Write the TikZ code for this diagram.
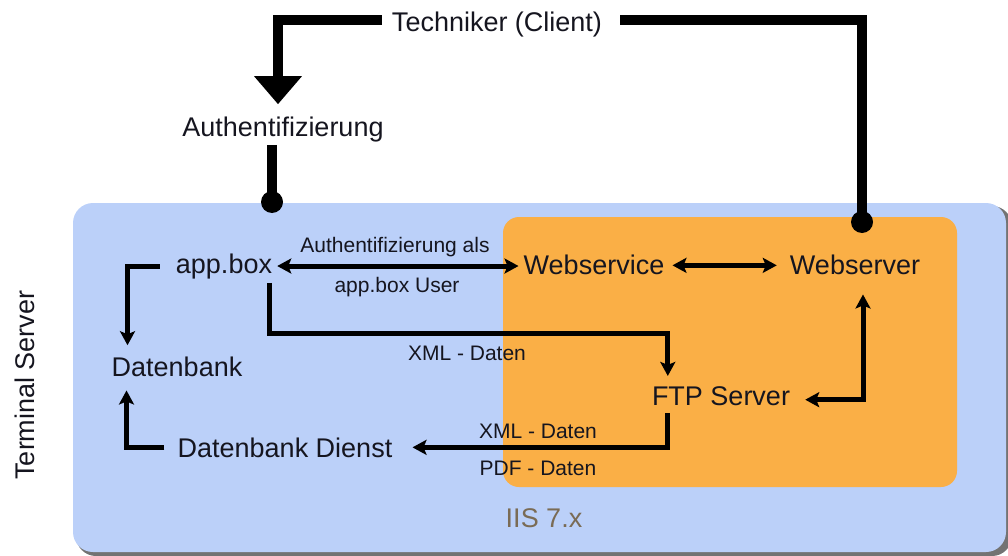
\documentclass[tikz,border=0pt]{standalone}
\usepackage{fontspec}
\setmainfont{Liberation Sans}
\usetikzlibrary{arrows.meta}
\definecolor{tsblue}{HTML}{BBD0F9}
\definecolor{iisorange}{HTML}{FAAF46}
\definecolor{iistext}{HTML}{7A6B55}
\definecolor{ink}{HTML}{15151F}
\begin{document}
\begin{tikzpicture}[x=1pt,y=-1pt,
  lbl/.style={inner sep=0pt, font=\fontsize{27}{32}\selectfont, text=ink, anchor=base},
  small/.style={inner sep=0pt, font=\fontsize{21}{25}\selectfont, text=ink, anchor=base},
  bigconn/.style={line width=10pt, draw=black},
  conn/.style={line width=5pt, draw=black},
  tip/.style={-{Stealth[length=14pt,width=15pt,inset=3pt]}},
  both/.style={{Stealth[length=14pt,width=15pt,inset=3pt]}-{Stealth[length=14pt,width=15pt,inset=3pt]}},
  bigtip/.style={-{Triangle[length=28pt,width=46pt]}},
  dot/.style={fill=black},
]
\useasboundingbox (0,0) rectangle (1008,556);
% containers
\fill[black!55, rounded corners=20pt] (76,206) rectangle (1012,556);
\fill[tsblue, rounded corners=20pt] (73,203) rectangle (1006,552);
\fill[iisorange, rounded corners=16pt] (503,217) rectangle (957,487);

% nodes
\node[lbl] (tech) at (497,32) {Techniker (Client)};
\node[lbl] (auth) at (283,137) {Authentifizierung};
\node[lbl] (app) at (224,273) {app.box};
\node[lbl] (websvc) at (594,274) {Webservice};
\node[lbl] (websrv) at (855,274) {Webserver};
\node[lbl] (db) at (177,376) {Datenbank};
\node[lbl] (ftp) at (721,405) {FTP Server};
\node[lbl] (dd) at (285,457) {Datenbank Dienst};
\node[lbl, text=iistext] (iis) at (544,527) {IIS 7.x};
\node[inner sep=0pt, font=\fontsize{27}{32}\selectfont, text=ink, rotate=90] (ts) at (25,385) {Terminal Server};

\node[small] (l1) at (395,252) {Authentifizierung als};
\node[small] (l2) at (397,292) {app.box User};
\node[small] (l3) at (467,360) {XML - Daten};
\node[small] (l4) at (538,438) {XML - Daten};
\node[small] (l5) at (538,475) {PDF - Daten};

% dots
\coordinate (adot) at (272,202);
\coordinate (wdot) at (862,222);
\fill[dot] (adot) circle (11pt);
\fill[dot] (wdot) circle (11pt);

% top connectors
\draw[bigconn, bigtip] ([xshift=-10pt,yshift=5pt]tech.west) -| ([xshift=-5pt,yshift=13pt]auth.north);
\draw[bigconn] ([xshift=18pt,yshift=5pt]tech.east) -| (wdot);
\draw[bigconn] ([xshift=-11pt,yshift=-2pt]auth.south) -- (adot);

% inner connectors
\draw[conn, both] ([xshift=5pt]app.east) -- ([xshift=-5pt]app.east -| websvc.west);
\draw[conn, both] ([xshift=8pt,yshift=-1pt]websvc.east) -- ([xshift=-13pt,yshift=-1pt]websvc.east -| websrv.west);
\draw[conn, tip] ([xshift=-3pt,yshift=-4pt]app.south east) |- ([xshift=16pt,yshift=52pt]ftp.north west) -- ([xshift=16pt,yshift=10pt]ftp.north west);
\draw[conn, both] ([xshift=15pt,yshift=-4pt]ftp.east) -| ([xshift=8pt,yshift=-20pt]websrv.south);
\draw[conn, tip] ([xshift=16pt,yshift=-8pt]ftp.south west) |- ([xshift=20pt]dd.east);
\draw[conn, tip] ([xshift=-16pt]app.west) -| ([xshift=16pt,yshift=11pt]db.north west);
\draw[conn, tip] ([xshift=-13pt]dd.west) -| ([xshift=15pt,yshift=-14pt]db.south west);
\end{tikzpicture}
\end{document}
